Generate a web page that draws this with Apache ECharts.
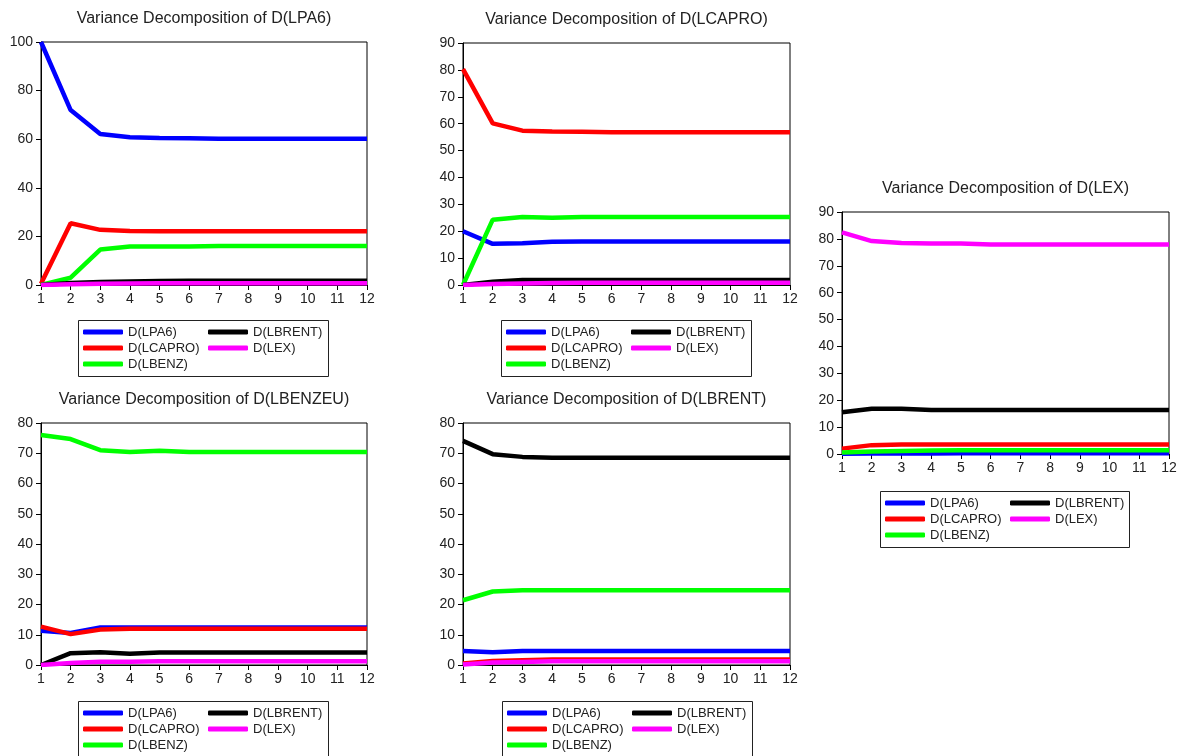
<!DOCTYPE html>
<html>
<head>
<meta charset="utf-8">
<script src="https://cdn.jsdelivr.net/npm/echarts@6/dist/echarts.min.js"></script>
<style>
html,body{margin:0;padding:0;background:#fff;}
#chart{width:1180px;height:756px;}
</style>
</head>
<body>
<div id="chart"></div>
<script>
// ---- Data ----
const horizons = ['1','2','3','4','5','6','7','8','9','10','11','12'];
const seriesNames = ['D(LPA6)','D(LCAPRO)','D(LBENZ)','D(LBRENT)','D(LEX)'];
const seriesColors = ['#0000FF','#FF0000','#00FF00','#000000','#FF00FF'];

// Variance Decomposition of D(LPA6)
const lpa6_LPA6   = [100, 72.0, 62.1, 60.8, 60.5, 60.4, 60.2, 60.2, 60.2, 60.2, 60.2, 60.2];
const lpa6_LCAPRO = [0.5, 25.4, 22.7, 22.2, 22.1, 22.1, 22.1, 22.1, 22.1, 22.1, 22.1, 22.1];
const lpa6_LBENZ  = [0.0, 3.0, 14.6, 15.8, 15.8, 15.8, 16.1, 16.1, 16.1, 16.1, 16.1, 16.1];
const lpa6_LBRENT = [0.0, 0.8, 1.2, 1.4, 1.6, 1.7, 1.7, 1.7, 1.7, 1.7, 1.7, 1.7];
const lpa6_LEX    = [0.0, 0.3, 0.5, 0.6, 0.7, 0.7, 0.7, 0.7, 0.7, 0.7, 0.7, 0.7];

// Variance Decomposition of D(LCAPRO)
const lcapro_LPA6   = [20.0, 15.3, 15.5, 16.1, 16.2, 16.2, 16.2, 16.2, 16.2, 16.2, 16.2, 16.2];
const lcapro_LCAPRO = [80.3, 60.1, 57.4, 57.1, 57.0, 56.8, 56.8, 56.8, 56.8, 56.8, 56.8, 56.8];
const lcapro_LBENZ  = [0.0, 24.3, 25.3, 25.0, 25.3, 25.3, 25.3, 25.3, 25.3, 25.3, 25.3, 25.3];
const lcapro_LBRENT = [0.0, 1.2, 1.9, 1.9, 1.9, 1.9, 1.9, 1.9, 1.9, 1.9, 1.9, 1.9];
const lcapro_LEX    = [0.0, 0.4, 0.6, 0.7, 0.8, 0.8, 0.8, 0.8, 0.8, 0.8, 0.8, 0.8];

// Variance Decomposition of D(LEX)
const lex_LPA6   = [0.1, 0.2, 0.2, 0.2, 0.3, 0.3, 0.3, 0.3, 0.3, 0.3, 0.3, 0.3];
const lex_LCAPRO = [2.0, 3.3, 3.5, 3.5, 3.5, 3.5, 3.5, 3.5, 3.5, 3.5, 3.5, 3.5];
const lex_LBENZ  = [0.6, 0.9, 1.1, 1.3, 1.4, 1.4, 1.4, 1.4, 1.4, 1.4, 1.4, 1.4];
const lex_LBRENT = [15.5, 16.8, 16.8, 16.4, 16.4, 16.4, 16.4, 16.4, 16.4, 16.4, 16.4, 16.4];
const lex_LEX    = [82.4, 79.2, 78.5, 78.3, 78.3, 77.9, 77.9, 77.9, 77.9, 77.9, 77.9, 77.9];

// Variance Decomposition of D(LBENZEU)
const lbenzeu_LPA6   = [11.3, 10.6, 12.4, 12.4, 12.4, 12.4, 12.4, 12.4, 12.4, 12.4, 12.4, 12.4];
const lbenzeu_LCAPRO = [12.7, 10.2, 11.7, 12.0, 12.0, 12.0, 12.0, 12.0, 12.0, 12.0, 12.0, 12.0];
const lbenzeu_LBENZ  = [76.0, 74.7, 71.0, 70.4, 70.8, 70.4, 70.4, 70.4, 70.4, 70.4, 70.4, 70.4];
const lbenzeu_LBRENT = [0.0, 3.9, 4.2, 3.7, 4.1, 4.1, 4.1, 4.1, 4.1, 4.1, 4.1, 4.1];
const lbenzeu_LEX    = [0.0, 0.7, 1.1, 1.1, 1.2, 1.2, 1.2, 1.2, 1.2, 1.2, 1.2, 1.2];

// Variance Decomposition of D(LBRENT)
const lbrent_LPA6   = [4.6, 4.2, 4.6, 4.6, 4.6, 4.6, 4.6, 4.6, 4.6, 4.6, 4.6, 4.6];
const lbrent_LCAPRO = [0.5, 1.3, 1.6, 1.8, 1.8, 1.8, 1.8, 1.8, 1.8, 1.8, 1.8, 1.8];
const lbrent_LBENZ  = [21.4, 24.3, 24.7, 24.7, 24.7, 24.7, 24.7, 24.7, 24.7, 24.7, 24.7, 24.7];
const lbrent_LBRENT = [74.1, 69.7, 68.8, 68.5, 68.5, 68.5, 68.5, 68.5, 68.5, 68.5, 68.5, 68.5];
const lbrent_LEX    = [0.2, 0.8, 1.0, 1.2, 1.2, 1.2, 1.2, 1.2, 1.2, 1.2, 1.2, 1.2];

const panelTitles = [
  'Variance Decomposition of D(LPA6)',
  'Variance Decomposition of D(LCAPRO)',
  'Variance Decomposition of D(LEX)',
  'Variance Decomposition of D(LBENZEU)',
  'Variance Decomposition of D(LBRENT)'
];
const panelYMax = [100, 90, 90, 80, 80];
const panelYStep = [20, 10, 10, 10, 10];
const panelData = [
  [lpa6_LPA6, lpa6_LCAPRO, lpa6_LBENZ, lpa6_LBRENT, lpa6_LEX],
  [lcapro_LPA6, lcapro_LCAPRO, lcapro_LBENZ, lcapro_LBRENT, lcapro_LEX],
  [lex_LPA6, lex_LCAPRO, lex_LBENZ, lex_LBRENT, lex_LEX],
  [lbenzeu_LPA6, lbenzeu_LCAPRO, lbenzeu_LBENZ, lbenzeu_LBRENT, lbenzeu_LEX],
  [lbrent_LPA6, lbrent_LCAPRO, lbrent_LBENZ, lbrent_LBRENT, lbrent_LEX]
];

// ---- Layout ----
const grids = [
  {left: 41,  top: 42,  width: 326, height: 243},
  {left: 463, top: 43,  width: 327, height: 242},
  {left: 842, top: 212, width: 327, height: 242},
  {left: 41,  top: 423, width: 326, height: 242},
  {left: 463, top: 423, width: 327, height: 242}
];
const legendBoxes = [
  {x: 78,  y: 320, w: 250, h: 56},
  {x: 501, y: 320, w: 250, h: 56},
  {x: 880, y: 491, w: 249, h: 56},
  {x: 78,  y: 701, w: 250, h: 62},
  {x: 502, y: 701, w: 250, h: 62}
];
const FONT = '"Liberation Sans", Arial, sans-serif';

const option = {
  backgroundColor: '#ffffff',
  animation: false,
  title: [],
  grid: [],
  xAxis: [],
  yAxis: [],
  legend: [],
  series: [],
  graphic: []
};

grids.forEach((g, p) => {
  option.grid.push({
    left: g.left, top: g.top, width: g.width, height: g.height,
    show: true, borderColor: '#000', borderWidth: 1, backgroundColor: 'transparent'
  });
  option.title.push({
    text: panelTitles[p],
    left: g.left + g.width / 2,
    top: g.top - 31,
    textAlign: 'center',
    padding: 0,
    textStyle: {fontFamily: FONT, fontSize: 16, fontWeight: 'normal', color: '#222'}
  });
  option.xAxis.push({
    type: 'category', gridIndex: p, data: horizons, boundaryGap: false,
    axisLine: {lineStyle: {color: '#000', width: 1}},
    axisTick: {show: true, inside: false, length: 5, alignWithLabel: true, lineStyle: {color: '#000'}},
    axisLabel: {fontFamily: FONT, fontSize: 14, color: '#222', margin: 7, interval: 0},
    splitLine: {show: false}
  });
  option.yAxis.push({
    type: 'value', gridIndex: p, min: 0, max: panelYMax[p], interval: panelYStep[p],
    axisLine: {show: true, lineStyle: {color: '#000', width: 1}},
    axisTick: {show: true, inside: false, length: 5, lineStyle: {color: '#000'}},
    axisLabel: {fontFamily: FONT, fontSize: 14, color: '#222', margin: 8},
    splitLine: {show: false}
  });
  panelData[p].forEach((arr, s) => {
    option.series.push({
      name: seriesNames[s], type: 'line', xAxisIndex: p, yAxisIndex: p,
      data: arr, symbol: 'none', color: seriesColors[s],
      lineStyle: {width: 4.5, color: seriesColors[s]},
      z: 2 + s * 0.01
    });
  });
  const b = legendBoxes[p];
  option.graphic.push({
    type: 'rect', shape: {x: b.x + 0.5, y: b.y + 0.5, width: b.w, height: b.h},
    style: {fill: 'none', stroke: '#222', lineWidth: 1}, silent: true
  });
  const common = {
    orient: 'vertical', padding: 0, itemGap: 0, itemWidth: 40, itemHeight: 5,
    icon: 'roundRect', selectedMode: false,
    textStyle: {fontFamily: FONT, fontSize: 13, color: '#222', lineHeight: 16}
  };
  option.legend.push(Object.assign({}, common, {
    data: [seriesNames[0], seriesNames[1], seriesNames[2]],
    left: b.x + 5, top: b.y + 4
  }));
  option.legend.push(Object.assign({}, common, {
    data: [seriesNames[3], seriesNames[4]],
    left: b.x + 130, top: b.y + 4
  }));
});

const chart = echarts.init(document.getElementById('chart'), null, {renderer: 'canvas'});
chart.setOption(option);
</script>
</body>
</html>
